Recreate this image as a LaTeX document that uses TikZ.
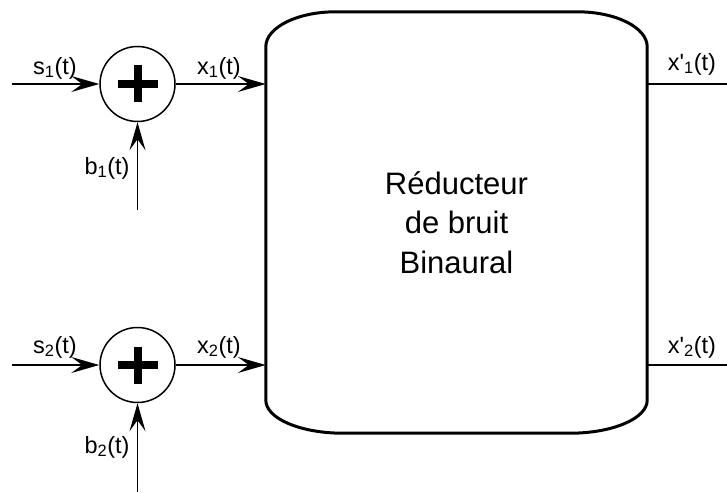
\documentclass[tikz,border=0pt]{standalone}
\usepackage{fontspec}
\setmainfont{Liberation Sans}
\newfontfamily\arialf{Liberation Sans}
\usetikzlibrary{arrows.meta}
\begin{document}
\begin{tikzpicture}[x=1pt,y=1pt]
\tikzset{
  sig/.style={line width=1.5pt},
  arr/.style={sig, -{Stealth[length=28pt,width=16pt,inset=11pt]}},
  lab/.style={font=\arialf\fontsize{23.5}{28}\selectfont, inner sep=0pt},
  sum/.style={circle, draw, line width=1.5pt, minimum size=75pt, inner sep=0pt},
  plus/.style={line width=8pt},
  boxline/.style={line width=3pt}
}
\useasboundingbox (0,0) rectangle (727,-492);
\fill[white] (0,0) rectangle (727,-492);

% adders
\node[sum] (sum1) at (137.5,-84) {};
\node[sum] (sum2) at (137.5,-365) {};
\draw[plus] ([xshift=-20pt]sum1.center) -- ([xshift=20pt]sum1.center)
            ([yshift=18.5pt]sum1.center) -- ([yshift=-18.5pt]sum1.center);
\draw[plus] ([xshift=-20pt]sum2.center) -- ([xshift=20pt]sum2.center)
            ([yshift=18.5pt]sum2.center) -- ([yshift=-18.5pt]sum2.center);

% main block
\node[minimum width=381pt, minimum height=421pt, inner sep=0pt, align=center,
      font=\arialf\fontsize{31}{39.5}\selectfont] (box) at (456.5,-222.5)
      {R\'educteur\\de bruit\\Binaural};
\draw[boxline] ([yshift=-35pt]box.north west)
   arc[start angle=180,end angle=90,x radius=70pt,y radius=35pt]
   -- ([xshift=-70pt]box.north east)
   arc[start angle=90,end angle=0,x radius=70pt,y radius=35pt]
   -- ([yshift=33pt]box.south east)
   arc[start angle=0,end angle=-90,x radius=77pt,y radius=33pt]
   -- ([xshift=77pt]box.south west)
   arc[start angle=270,end angle=180,x radius=77pt,y radius=33pt]
   -- cycle;

% free ends
\coordinate (in1) at (12,-84);
\coordinate (in2) at (12,-365);
\coordinate (bn1) at (137.5,-210);
\coordinate (bn2) at (137.5,-492);
\coordinate (out1) at (727,-84);
\coordinate (out2) at (727,-365);

% connectors
\draw[arr] (in1) -- (sum1);
\draw[arr] (bn1) -- (sum1);
\draw[arr] (sum1) -- (sum1 -| box.west);
\draw[arr] (in2) -- (sum2);
\draw[arr] (bn2) -- (sum2);
\draw[arr] (sum2) -- (sum2 -| box.west);
\draw[sig] (box.east |- out1) -- (out1);
\draw[sig] (box.east |- out2) -- (out2);

% labels
\node[lab] (ls1) at (55,-68) {s\textsubscript{1}(t)};
\node[lab] (lx1) at (219,-68) {x\textsubscript{1}(t)};
\node[lab] (lb1) at (107,-168) {b\textsubscript{1}(t)};
\node[lab] (lo1) at (692,-64) {x'\textsubscript{1}(t)};
\node[lab] (ls2) at (55,-347) {s\textsubscript{2}(t)};
\node[lab] (lx2) at (219,-347) {x\textsubscript{2}(t)};
\node[lab] (lb2) at (107,-447) {b\textsubscript{2}(t)};
\node[lab] (lo2) at (692,-347) {x'\textsubscript{2}(t)};
\end{tikzpicture}
\end{document}
